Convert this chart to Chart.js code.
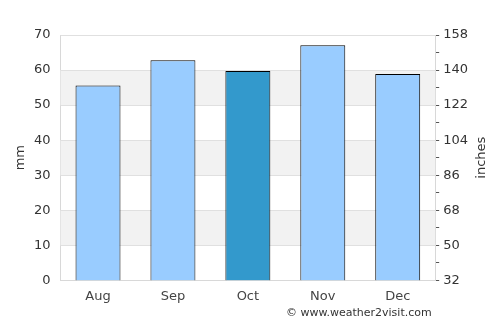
<!DOCTYPE html>
<html>
<head>
<meta charset="utf-8">
<script src="https://cdn.jsdelivr.net/npm/chart.js@4"></script>
<style>
  html, body { margin: 0; padding: 0; background: #fff; }
  #wrap { position: relative; width: 500px; height: 325px; }
  #credit {
    position: absolute; left: 286px; top: 306px;
    font: 11px "DejaVu Sans", sans-serif; color: #333;
  }
</style>
</head>
<body>
<div id="wrap">
  <canvas id="rainChart" width="500" height="325"></canvas>
  <div id="credit">© www.weather2visit.com</div>
</div>
<script>
// Monthly rainfall
const months = ['Aug', 'Sep', 'Oct', 'Nov', 'Dec'];
const rainMm = [55.6, 62.8, 59.7, 67.1, 58.9];
const highlightMonth = 'Oct';
const rightTickLabels = [32, 50, 68, 86, 104, 122, 140, 158];

// draw a rotated axis title reading bottom to top
const drawSideTitle = (ctx, text, x, y) => {
    ctx.save();
    ctx.translate(x, y);
    ctx.rotate(-Math.PI / 2);
    ctx.textAlign = 'center';
    ctx.textBaseline = 'middle';
    ctx.fillStyle = '#333';
    ctx.font = '13px "DejaVu Sans"';
    ctx.fillText(text, 0, 0);
    ctx.restore();
};

// Alternating grey bands behind the bars, plus both axis titles
const bandPlugin = {
    id: 'bands',
    beforeDatasetsDraw(chart) {
        const { ctx, chartArea, scales } = chart;
        const y = scales.y;
        ctx.save();
        ctx.fillStyle = '#f2f2f2';
        for (let v = 10; v < 70; v += 20) {
            const top = y.getPixelForValue(v + 10);
            const bottom = y.getPixelForValue(v);
            ctx.fillRect(chartArea.left, top, chartArea.right - chartArea.left, bottom - top);
        }
        ctx.strokeStyle = '#e0e0e0';
        ctx.lineWidth = 1;
        for (let v = 10; v <= 70; v += 10) {
            const py = Math.round(y.getPixelForValue(v)) + 0.5;
            ctx.beginPath();
            ctx.moveTo(chartArea.left, py);
            ctx.lineTo(chartArea.right, py);
            ctx.stroke();
        }
        ctx.restore();
    },
    afterDraw(chart) {
        const { ctx, chartArea } = chart;
        const midY = (chartArea.top + chartArea.bottom) / 2;
        drawSideTitle(ctx, 'mm', 21, midY);
        drawSideTitle(ctx, 'inches', 482, midY);
    }
};

const ctx = document.getElementById('rainChart').getContext('2d');
const rainChart = new Chart(ctx, {
    type: 'bar',
    data: {
        labels: months,
        datasets: [{
            data: rainMm,
            backgroundColor: months.map(m => m === highlightMonth ? '#3399cc' : '#99ccff'),
            borderColor: '#000',
            borderWidth: 1,
            borderSkipped: 'bottom',
            barPercentage: 0.6,
            categoryPercentage: 1.0
        }]
    },
    plugins: [bandPlugin],
    options: {
        responsive: false,
        animation: false,
        layout: { padding: { left: 24, right: 28, top: 35, bottom: 13 } },
        plugins: {
            legend: { display: false },
            tooltip: { enabled: false }
        },
        scales: {
            x: {
                grid: { display: false, drawTicks: false },
                border: { color: '#d8d8d8' },
                ticks: { color: '#444', font: { family: 'DejaVu Sans', size: 13 }, padding: 8 }
            },
            y: {
                min: 0, max: 70,
                ticks: { stepSize: 10, color: '#333', font: { family: 'DejaVu Sans', size: 13 }, padding: 10 },
                grid: { display: false, drawTicks: false },
                border: { color: '#d8d8d8' }
            },
            y1: {
                position: 'right',
                min: 32, max: 158,
                afterBuildTicks: axis => {
                    axis.ticks = [];
                    for (let v = 32; v <= 158; v += 9) axis.ticks.push({ value: v });
                },
                ticks: {
                    autoSkip: false,
                    color: '#333', font: { family: 'DejaVu Sans', size: 13 }, padding: 4,
                    callback: v => rightTickLabels.includes(v) ? String(v) : ''
                },
                grid: { drawOnChartArea: false, tickLength: 4, color: '#555' },
                border: { color: '#d8d8d8' }
            }
        }
    }
});
</script>
</body>
</html>
